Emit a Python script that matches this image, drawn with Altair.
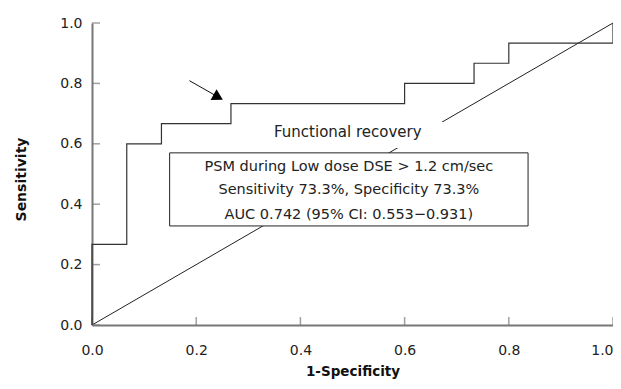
import altair as alt
import pandas as pd

# ROC curve (step function)
fpr = [0.0, 0.0, 0.0667, 0.0667, 0.1333, 0.1333, 0.2667, 0.2667, 0.6, 0.6,
       0.7333, 0.7333, 0.8, 0.8, 1.0, 1.0]
tpr = [0.0, 0.2667, 0.2667, 0.6, 0.6, 0.6667, 0.6667, 0.7333, 0.7333, 0.8,
       0.8, 0.8667, 0.8667, 0.9333, 0.9333, 1.0]

# reference diagonal
diag_x = [0.0, 1.0]
diag_y = [0.0, 1.0]

tick_vals = [0.0, 0.2, 0.4, 0.6, 0.8, 1.0]

label_text = ["Functional recovery"]
box_lines = ["PSM during Low dose DSE > 1.2 cm/sec",
             "Sensitivity 73.3%, Specificity 73.3%",
             "AUC 0.742 (95% CI: 0.553\u22120.931)"]

# annotation placement (data units)
label_pos = {"x": 0.491, "y": 0.639}
label_bg = {"x": 0.30, "x2": 0.69, "y": 0.586, "y2": 0.672}
box = {"x": 0.149, "x2": 0.837, "y": 0.328, "y2": 0.570}
box_line_y = [0.523, 0.447, 0.364]
box_x = 0.493
arrow = {"x": 0.187, "y": 0.809, "x2": 0.236, "y2": 0.761}
head = {"x": 0.2422, "y": 0.754}

FONT = "DejaVu Sans"
W, H = 521, 302
TICK = 8

roc_df = pd.DataFrame({"x": fpr, "y": tpr, "o": list(range(len(fpr)))})
diag_df = pd.DataFrame({"x": diag_x, "y": diag_y})
tick_df = pd.DataFrame({"v": tick_vals})

xs = alt.Scale(domain=[0, 1], nice=False, zero=False)
ys = alt.Scale(domain=[0, 1], nice=False, zero=False)

x_main = alt.Axis(values=tick_vals, format=".1f", ticks=False, tickSize=0,
                  labelFlush=False, labelOverlap=False,
                  labelAlign={"condition": {"test": "datum.value >= 1", "value": "right"},
                              "value": "center"},
                  domainColor="#777777", domainWidth=2, grid=False,
                  labelFont=FONT, labelFontSize=14, labelColor="#222222",
                  labelPadding=18, title="1-Specificity", titleFont=FONT,
                  titleFontSize=13.5, titleFontWeight="bold", titleColor="#111111",
                  titleBaseline="alphabetic", titleY=50)
y_main = alt.Axis(values=tick_vals, format=".1f", ticks=False, tickSize=0,
                  labelFlush=False, labelOverlap=False,
                  domainColor="#777777", domainWidth=2, grid=False,
                  labelFont=FONT, labelFontSize=14, labelColor="#222222",
                  labelPadding=10, title="Sensitivity", titleFont=FONT,
                  titleFontSize=14, titleFontWeight="bold", titleColor="#111111",
                  titlePadding=31, titleY=156)

diag = alt.Chart(diag_df).mark_line(color="#222222", strokeWidth=1).encode(
    x=alt.X("x:Q", scale=xs, axis=x_main),
    y=alt.Y("y:Q", scale=ys, axis=y_main),
)

# inward axis ticks
x_ticks = alt.Chart(tick_df).mark_tick(orient="vertical", color="#777777",
                                       thickness=1.5, size=TICK).encode(
    x=alt.X("v:Q", scale=xs), y=alt.value(H - TICK / 2))
y_ticks = alt.Chart(tick_df).mark_tick(orient="horizontal", color="#777777",
                                       thickness=1.5, size=TICK).encode(
    y=alt.Y("v:Q", scale=ys), x=alt.value(TICK / 2))

bg_df = pd.DataFrame([label_bg])
label_bg_rect = alt.Chart(bg_df).mark_rect(color="white").encode(
    x=alt.X("x:Q", scale=xs), x2="x2:Q",
    y=alt.Y("y:Q", scale=ys), y2="y2:Q",
)

lab_df = pd.DataFrame({"t": label_text, "x": [label_pos["x"]], "y": [label_pos["y"]]})
label = alt.Chart(lab_df).mark_text(font=FONT, fontSize=15, color="#222222",
                                    align="center", baseline="middle").encode(
    x=alt.X("x:Q", scale=xs), y=alt.Y("y:Q", scale=ys), text="t:N")

box_df = pd.DataFrame([box])
box_rect = alt.Chart(box_df).mark_rect(fill="white", stroke="#222222",
                                       strokeWidth=1).encode(
    x=alt.X("x:Q", scale=xs), x2="x2:Q",
    y=alt.Y("y:Q", scale=ys), y2="y2:Q",
)

bt_df = pd.DataFrame({"t": box_lines, "y": box_line_y, "x": [box_x] * 3})
box_text = alt.Chart(bt_df).mark_text(font=FONT, fontSize=14.5, color="#222222",
                                      align="center", baseline="middle").encode(
    x=alt.X("x:Q", scale=xs), y=alt.Y("y:Q", scale=ys), text="t:N")

roc = alt.Chart(roc_df).mark_line(color="#333333", strokeWidth=1.2,
                                  interpolate="linear").encode(
    x=alt.X("x:Q", scale=xs),
    y=alt.Y("y:Q", scale=ys),
    order="o:Q",
)

ar_df = pd.DataFrame([arrow])
arrow_line = alt.Chart(ar_df).mark_rule(color="#111111", strokeWidth=1).encode(
    x=alt.X("x:Q", scale=xs), x2="x2:Q",
    y=alt.Y("y:Q", scale=ys), y2="y2:Q",
)
hd_df = pd.DataFrame([head])
arrow_head = alt.Chart(hd_df).mark_point(shape="triangle-right", filled=True,
                                         color="#000000", size=150, angle=29,
                                         opacity=1).encode(
    x=alt.X("x:Q", scale=xs), y=alt.Y("y:Q", scale=ys))

chart = alt.layer(diag, x_ticks, y_ticks, label_bg_rect, label, box_rect,
                  box_text, roc, arrow_line, arrow_head).properties(
    width=W, height=H,
    autosize=alt.AutoSizeParams(type="none"),
    padding={"left": 84, "top": 15, "right": 0, "bottom": 54},
    background="white"
).configure_view(stroke=None)

chart.save("out.html", embed_options={"renderer": "svg", "actions": False})
